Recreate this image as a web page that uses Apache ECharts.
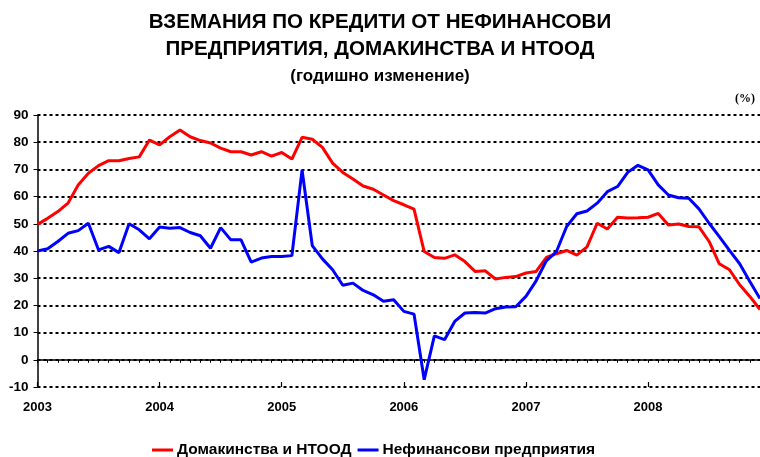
<!DOCTYPE html>
<html>
<head>
<meta charset="utf-8">
<script src="https://cdn.jsdelivr.net/npm/echarts@6/dist/echarts.min.js"></script>
<style>
  html, body { margin: 0; padding: 0; background: #fff; }
  #chart { width: 760px; height: 457px; }
</style>
</head>
<body>
<div id="chart"></div>
<script>
// years shown on the axis, one point per month
const years = ["2003", "2004", "2005", "2006", "2007", "2008"];

// Домакинства и НТООД, годишно изменение (%)
const households = [
  49.8, 52.0, 54.5, 57.6, 64.3, 68.6, 71.4, 73.2, 73.2, 74.0, 74.6, 80.8,
  79.0, 82.0, 84.5, 82.0, 80.6, 79.7, 77.8, 76.5, 76.5, 75.3, 76.5, 74.9,
  76.2, 73.8, 81.8, 81.1, 78.1, 72.3, 68.9, 66.5, 63.9, 62.7, 60.6, 58.5,
  57.0, 55.4, 39.8, 37.6, 37.3, 38.6, 36.1, 32.5, 32.7, 29.7, 30.3, 30.6,
  31.9, 32.5, 37.6, 39.0, 40.2, 38.5, 41.5, 50.2, 48.1, 52.4, 52.1, 52.2,
  52.4, 53.8, 49.6, 49.9, 49.0, 48.9, 43.5, 35.3, 33.1, 27.6, 23.3, 18.5
];

// Нефинансови предприятия, годишно изменение (%)
const corporates = [
  40.0, 40.8, 43.5, 46.5, 47.5, 50.2, 40.4, 41.7, 39.4, 50.0, 47.8, 44.5,
  48.8, 48.4, 48.6, 46.8, 45.6, 41.0, 48.6, 44.1, 44.1, 35.9, 37.4, 38.0,
  38.0, 38.3, 69.8, 42.0, 37.1, 33.1, 27.4, 28.2, 25.5, 23.9, 21.5, 22.1,
  17.8, 16.8, -7.3, 8.8, 7.4, 14.1, 17.2, 17.4, 17.2, 18.8, 19.4, 19.5,
  23.3, 29.0, 36.4, 39.8, 49.0, 53.7, 54.7, 57.6, 61.8, 63.7, 68.9, 71.5,
  69.8, 64.3, 60.6, 59.6, 59.4, 55.5, 50.2, 45.3, 40.2, 35.3, 28.8, 22.5
];

const months = [];
years.forEach(y => {
  for (let m = 1; m <= 12; m++) months.push(y + "-" + (m < 10 ? "0" + m : m));
});

const font = "'Liberation Sans', Arial, sans-serif";
const titleStyle = { fontFamily: font, fontSize: 20.6, fontWeight: "bold", color: "#000" };

let chart = echarts.init(document.getElementById("chart"));

chart.setOption({
  animation: false,
  backgroundColor: "#fff",
  title: [
    { text: "ВЗЕМАНИЯ ПО КРЕДИТИ ОТ НЕФИНАНСОВИ", left: "center", top: 7, textStyle: titleStyle },
    { text: "ПРЕДПРИЯТИЯ, ДОМАКИНСТВА И НТООД", left: "center", top: 34, textStyle: titleStyle },
    {
      text: "(годишно изменение)",
      left: "center",
      top: 63,
      textStyle: { fontFamily: font, fontSize: 17, fontWeight: "bold", color: "#000" }
    },
    {
      text: "(%)",
      right: 0,
      top: 88,
      textStyle: { fontFamily: "'Liberation Serif', 'Times New Roman', serif", fontSize: 12, fontWeight: "bold", color: "#000" }
    }
  ],
  legend: {
    bottom: -6,
    left: 147,
    itemWidth: 21,
    itemHeight: 3,
    itemGap: 6,
    icon: "rect",
    textStyle: { fontFamily: font, fontSize: 15.5, fontWeight: "bold", color: "#000", padding: [0, 0, 0, -1] },
    data: ["Домакинства и НТООД", "Нефинансови предприятия"]
  },
  grid: { left: 37.5, top: 115, width: 726, height: 272 },
  xAxis: [
    {
      type: "category",
      data: months,
      boundaryGap: false,
      axisLine: { lineStyle: { color: "#000", width: 1.5 } },
      axisTick: { interval: 0, length: 3, lineStyle: { color: "#000" } },
      axisLabel: {
        interval: 11,
        margin: 14,
        fontFamily: font,
        fontSize: 13,
        fontWeight: "bold",
        color: "#000",
        formatter: v => v.slice(0, 4)
      },
      splitLine: { show: false }
    },
    {
      type: "category",
      data: months,
      boundaryGap: false,
      position: "bottom",
      axisLine: { show: false },
      axisTick: { interval: 11, inside: true, length: 5, lineStyle: { color: "#000", width: 1.2 } },
      axisLabel: { show: false },
      splitLine: { show: false }
    }
  ],
  yAxis: {
    type: "value",
    min: -10,
    max: 90,
    interval: 10,
    axisLine: { show: true, lineStyle: { color: "#000", width: 1.5 } },
    axisTick: { show: true, length: 4, lineStyle: { color: "#000" } },
    axisLabel: { margin: 9, fontFamily: font, fontSize: 13.5, fontWeight: "bold", color: "#000" },
    splitLine: { lineStyle: { color: "#000", width: 2, type: [3, 3] } }
  },
  series: [
    {
      name: "Домакинства и НТООД",
      type: "line",
      data: households,
      symbol: "none",
      lineStyle: { color: "#ff0000", width: 3 },
      itemStyle: { color: "#ff0000" },
      z: 3
    },
    {
      name: "Нефинансови предприятия",
      type: "line",
      data: corporates,
      symbol: "none",
      lineStyle: { color: "#0000ff", width: 3 },
      itemStyle: { color: "#0000ff" },
      z: 4
    }
  ]
});
</script>
</body>
</html>
